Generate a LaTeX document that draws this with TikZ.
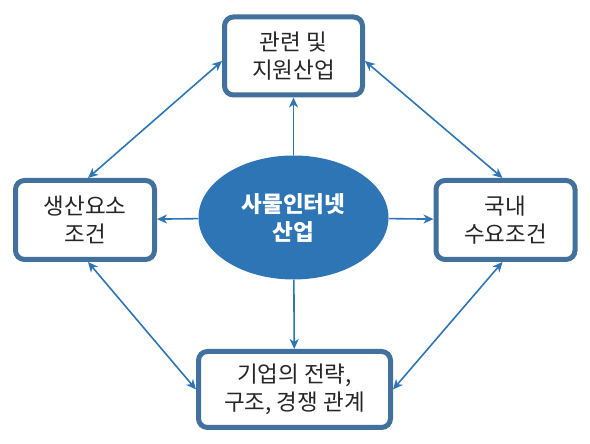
\documentclass[tikz,border=0pt]{standalone}
\usepackage{fontspec}
\newfontfamily\kr{Noto Sans CJK KR}
\usetikzlibrary{arrows.meta,shapes.geometric,positioning}

\definecolor{boxline}{HTML}{41719C}
\definecolor{corefill}{HTML}{2E75B6}
\definecolor{linkblue}{HTML}{2E75B6}

\begin{document}
\begin{tikzpicture}[
    x=1pt,y=1pt,
    factor/.style={rectangle,draw=boxline,line width=5pt,fill=white,rounded corners=9pt,align=center,font=\kr\fontsize{22.5}{28}\selectfont,text=black!85,inner sep=2pt},
    core/.style={ellipse,fill=corefill,minimum width=190pt,minimum height=124pt,align=center,font=\kr\bfseries\fontsize{22.5}{28}\selectfont,text=white},
    arrow/.style={draw=linkblue,line width=1.6pt,-{Stealth[length=10pt,width=9pt,inset=3pt]}},
    both/.style={draw=linkblue,line width=1.6pt,{Stealth[length=10pt,width=9pt,inset=3pt]}-{Stealth[length=10pt,width=9pt,inset=3pt]}}
]
    \useasboundingbox (0,0) rectangle (590,444);

    \node[core] (iot) at (293.5,226.5) {사물인터넷\\산업};

    \node[factor,minimum width=138pt,minimum height=78pt] (related) at (293.5,388) {관련 및\\지원산업};
    \node[factor,minimum width=139pt,minimum height=79pt] (inputs) at (85,224) {생산요소\\조건};
    \node[factor,minimum width=139pt,minimum height=79pt] (demand) at (505.5,224) {국내\\수요조건};
    \node[factor,minimum width=192pt,minimum height=76pt] (firm) at (294.5,54.5) {기업의 전략,\\구조, 경쟁 관계};

    % from the core
    \draw[arrow] (iot) -- (related);
    \draw[arrow] (iot) -- (inputs);
    \draw[arrow] (iot) -- (demand);
    \draw[arrow] (iot) -- (firm);

    % between the factors
    \draw[both] ([xshift=3pt]inputs.north) -- ([yshift=-5pt]related.west);
    \draw[both] ([yshift=-5pt]related.east) -- ([xshift=-3pt]demand.north);
    \draw[both] ([xshift=3pt]inputs.south) -- (firm.west);
    \draw[both] ([xshift=-3pt]demand.south) -- (firm.east);
\end{tikzpicture}
\end{document}
